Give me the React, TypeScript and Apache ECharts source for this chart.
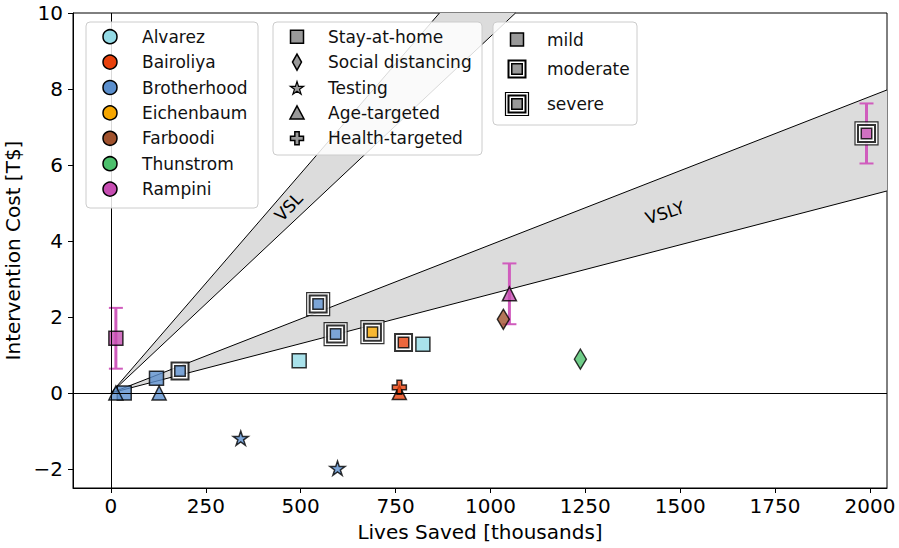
import React, { useEffect, useRef } from 'react';
import * as echarts from 'echarts';

const studies = ['Alvarez', 'Bairoliya', 'Brotherhood', 'Eichenbaum', 'Farboodi', 'Thunstrom', 'Rampini'];
const studyColors = ['#94dbe6', '#e8410c', '#5b8fcd', '#f6a600', '#a0522d', '#4cc06c', '#c64db2'];
const interventionTypes = ['Stay-at-home', 'Social distancing', 'Testing', 'Age-targeted', 'Health-targeted'];
const severities = ['mild', 'moderate', 'severe'];

// [lives saved (thousands), cost (T$), study index, severity index]
const stayAtHome = [
  [13, 1.44, 6, 0],
  [35, 0.0, 2, 0],
  [120, 0.39, 2, 0],
  [182, 0.58, 2, 1],
  [496, 0.85, 0, 0],
  [546, 2.34, 2, 2],
  [592, 1.55, 2, 2],
  [689, 1.6, 3, 2],
  [771, 1.33, 1, 1],
  [822, 1.28, 0, 0],
  [1991, 6.83, 6, 2],
];
const socialDistancing = [
  [1034, 1.94, 4, 0],
  [1237, 0.89, 5, 0],
];
const testing = [
  [342, -1.19, 2, 0],
  [597, -1.98, 2, 0],
];
const ageTargeted = [
  [13, 0.0, 2, 0],
  [127, 0.0, 2, 0],
  [760, 0.01, 1, 0],
  [1050, 2.61, 6, 0],
];
const healthTargeted = [[760, 0.15, 1, 0]];
// [lives saved, cost, error half-width]
const rampiniErrors = [
  [13, 1.44, 0.8],
  [1050, 2.61, 0.8],
  [1991, 6.83, 0.79],
];
// slopes in T$ per thousand lives
const vslSlopes = [0.00938, 0.01155];
const vslySlopes = [0.0026, 0.0039];
const bandLabels = ['VSL', 'VSLY'];
const bandLabelX = [468, 1460];
const xTicks = [0, 250, 500, 750, 1000, 1250, 1500, 1750, 2000];
const yTicks = [-2, 0, 2, 4, 6, 8, 10];
const xRange = [-100, 2045];
const yRange = [-2.5, 10];

const FONT = '"DejaVu Sans", sans-serif';
const ERR_COLOR = '#d05cbd';
const BAND_COLOR = '#dcdcdc';
const LEGEND_GRAY = '#999999';

function starPoints(cx: number, cy: number, R: number) {
  const pts: number[][] = [];
  for (let i = 0; i < 10; i++) {
    const a = -Math.PI / 2 + (i * Math.PI) / 5;
    const r = i % 2 === 0 ? R : R * 0.382;
    pts.push([cx + r * Math.cos(a), cy + r * Math.sin(a)]);
  }
  return pts;
}
const starPath =
  'path://M' + starPoints(50, 50, 50).map((p) => p[0].toFixed(2) + ' ' + p[1].toFixed(2)).join(' L') + ' Z';
const plusPath = 'path://M33 0 L67 0 L67 33 L100 33 L100 67 L67 67 L67 100 L33 100 L33 67 L0 67 L0 33 L33 33 Z';

function plusPoints(cx: number, cy: number, s: number) {
  const h = s / 2, t = s / 6;
  return [
    [cx - t, cy - h], [cx + t, cy - h], [cx + t, cy - t], [cx + h, cy - t], [cx + h, cy + t], [cx + t, cy + t],
    [cx + t, cy + h], [cx - t, cy + h], [cx - t, cy + t], [cx - h, cy + t], [cx - h, cy - t], [cx - t, cy - t],
  ];
}

function buildLegends() {
  const children: any[] = [];
  let zc = 100;
  const add = (el: any) => {
    el.z = zc++;
    el.silent = true;
    children.push(el);
  };
  const boxStyle = { fill: 'rgba(255,255,255,0.85)', stroke: '#cccccc', lineWidth: 1 };
  const txt = (x: number, y: number, t: string) => ({
    type: 'text',
    x,
    y,
    style: { text: t, fontSize: 17, fontFamily: FONT, fill: '#111', align: 'left', verticalAlign: 'middle' },
  });
  const mk = { fill: LEGEND_GRAY, stroke: '#000', lineWidth: 1.5 };

  // Legend 1: studies
  add({ type: 'rect', shape: { x: 86, y: 22, width: 172, height: 186, r: 4 }, style: boxStyle });
  studies.forEach((s, i) => {
    const y = 36.7 + 25.4 * i;
    add({ type: 'circle', shape: { cx: 110, cy: y, r: 7 }, style: { fill: studyColors[i], stroke: '#000', lineWidth: 1.5 } });
    add(txt(142, y, s));
  });

  // Legend 2: intervention types
  add({ type: 'rect', shape: { x: 273, y: 22, width: 209, height: 133, r: 4 }, style: boxStyle });
  interventionTypes.forEach((t, i) => {
    const y = 36.7 + 25.4 * i;
    const x = 297;
    if (i === 0) add({ type: 'rect', shape: { x: x - 6.5, y: y - 6.5, width: 13, height: 13 }, style: mk });
    if (i === 1) add({ type: 'polygon', shape: { points: [[x, y - 8], [x + 4.5, y], [x, y + 8], [x - 4.5, y]] }, style: mk });
    if (i === 2) add({ type: 'polygon', shape: { points: starPoints(x, y + 1, 7) }, style: { ...mk, lineWidth: 1.2 } });
    if (i === 3) add({ type: 'polygon', shape: { points: [[x, y - 7], [x + 7, y + 6], [x - 7, y + 6]] }, style: mk });
    if (i === 4) add({ type: 'polygon', shape: { points: plusPoints(x, y, 13) }, style: mk });
    add(txt(328, y, t));
  });

  // Legend 3: severity
  add({ type: 'rect', shape: { x: 493, y: 22, width: 144, height: 103, r: 4 }, style: boxStyle });
  const sy = [39.5, 69, 104];
  severities.forEach((s, i) => {
    const y = sy[i];
    const x = 517;
    if (i === 2)
      add({ type: 'rect', shape: { x: x - 11.5, y: y - 11.5, width: 23, height: 23 }, style: { fill: '#fff', stroke: '#000', lineWidth: 1.2 } });
    if (i >= 1)
      add({ type: 'rect', shape: { x: x - 8.5, y: y - 8.5, width: 17, height: 17 }, style: { fill: '#fff', stroke: '#000', lineWidth: 2 } });
    const inner = i === 0 ? 13 : 10.5;
    add({ type: 'rect', shape: { x: x - inner / 2, y: y - inner / 2, width: inner, height: inner }, style: mk });
    add(txt(547, y, s));
  });
  return children;
}

const colorOf = (p: any) => studyColors[p.value[2]];

function App() {
  const ref = useRef<HTMLDivElement>(null);
  useEffect(() => {
    if (!ref.current) return;
    const chart = echarts.init(ref.current, null, { renderer: 'svg' });

    const bandData = [vslSlopes, vslySlopes].map((s, i) => {
      const mid = (s[0] + s[1]) / 2;
      return [bandLabelX[i], mid * bandLabelX[i], s[0], s[1], i];
    });

    const scatterBase = {
      type: 'scatter',
      encode: { x: 0, y: 1 },
      emphasis: { disabled: true },
      silent: true,
    };

    const option: any = {
      animation: false,
      backgroundColor: '#fff',
      grid: {
        left: 73,
        right: 12,
        top: 13,
        bottom: 60,
        containLabel: false,
        outerBoundsMode: 'none',
        show: true,
        borderColor: '#000',
        borderWidth: 1,
      },
      xAxis: {
        type: 'value',
        min: xRange[0],
        max: xRange[1],
        name: 'Lives Saved [thousands]',
        nameLocation: 'middle',
        nameGap: 34,
        nameTextStyle: { fontSize: 20, fontFamily: FONT, color: '#000' },
        axisLine: { show: true, onZero: false, lineStyle: { color: '#000', width: 1 } },
        axisTick: { show: true, length: 5, lineStyle: { color: '#000' }, customValues: xTicks },
        axisLabel: {
          fontSize: 20,
          fontFamily: FONT,
          color: '#000',
          margin: 8,
          customValues: xTicks,
          formatter: (v: number) => String(v),
        },
        splitLine: { show: false },
      },
      yAxis: {
        type: 'value',
        min: yRange[0],
        max: yRange[1],
        name: 'Intervention Cost [T$]',
        nameLocation: 'middle',
        nameGap: 40,
        nameTextStyle: { fontSize: 20, fontFamily: FONT, color: '#000' },
        axisLine: { show: true, onZero: false, lineStyle: { color: '#000', width: 1 } },
        axisTick: { show: true, length: 5, lineStyle: { color: '#000' }, customValues: yTicks },
        axisLabel: {
          fontSize: 20,
          fontFamily: FONT,
          color: '#000',
          margin: 10,
          customValues: yTicks,
          formatter: (v: number) => (v < 0 ? '\u2212' + Math.abs(v) : String(v)),
        },
        splitLine: { show: false },
      },
      graphic: { elements: buildLegends() },
      series: [
        {
          type: 'custom',
          silent: true,
          encode: { x: 0, y: 1 },
          data: bandData,
          z: 1,
          renderItem: (params: any, api: any) => {
            const lo = api.value(2), hi = api.value(3), idx = api.value(4);
            const endPt = (s: number) => {
              const x = Math.min(xRange[1], yRange[1] / s);
              return [x, s * x];
            };
            const eLo = endPt(lo), eHi = endPt(hi);
            const pts: number[][] = [[0, 0], eLo];
            if (eLo[0] >= xRange[1] && eHi[1] >= yRange[1]) pts.push([xRange[1], yRange[1]]);
            pts.push(eHi);
            const px = pts.map((p) => api.coord(p));
            const o = api.coord([0, 0]);
            const pLo = api.coord(eLo), pHi = api.coord(eHi);
            const lp = api.coord([api.value(0), api.value(1)]);
            const angle = Math.atan2(o[1] - lp[1], lp[0] - o[0]);
            return {
              type: 'group',
              children: [
                { type: 'polygon', shape: { points: px }, style: { fill: BAND_COLOR, stroke: 'none' } },
                { type: 'line', shape: { x1: o[0], y1: o[1], x2: pLo[0], y2: pLo[1] }, style: { stroke: '#000', lineWidth: 1 } },
                { type: 'line', shape: { x1: o[0], y1: o[1], x2: pHi[0], y2: pHi[1] }, style: { stroke: '#000', lineWidth: 1 } },
                {
                  type: 'text',
                  x: lp[0],
                  y: lp[1],
                  rotation: angle,
                  style: { text: bandLabels[idx], fontSize: 17, fontFamily: FONT, fill: '#000', align: 'center', verticalAlign: 'middle' },
                },
              ],
            };
          },
        },
        {
          type: 'line',
          data: [],
          silent: true,
          markLine: {
            silent: true,
            symbol: 'none',
            label: { show: false },
            lineStyle: { color: '#000', width: 1, type: 'solid' },
            emphasis: { disabled: true },
            data: [{ yAxis: 0 }, { xAxis: 0 }],
          },
        },
        {
          type: 'custom',
          silent: true,
          encode: { x: 0, y: 1 },
          data: rampiniErrors,
          renderItem: (params: any, api: any) => {
            const x = api.value(0), y = api.value(1), e = api.value(2);
            const t = api.coord([x, y + e]);
            const b = api.coord([x, y - e]);
            const hw = 7;
            return {
              type: 'group',
              children: [
                { type: 'line', shape: { x1: t[0], y1: t[1], x2: b[0], y2: b[1] }, style: { stroke: ERR_COLOR, lineWidth: 3 } },
                { type: 'line', shape: { x1: t[0] - hw, y1: t[1], x2: t[0] + hw, y2: t[1] }, style: { stroke: ERR_COLOR, lineWidth: 2 } },
                { type: 'line', shape: { x1: b[0] - hw, y1: b[1], x2: b[0] + hw, y2: b[1] }, style: { stroke: ERR_COLOR, lineWidth: 2 } },
              ],
            };
          },
        },
        {
          ...scatterBase,
          name: 'severe ring',
          data: stayAtHome.filter((d) => d[3] === 2),
          symbol: 'rect',
          symbolSize: 23,
          itemStyle: { color: '#fff', borderColor: '#000', borderWidth: 1.2 },
        },
        {
          ...scatterBase,
          name: 'moderate ring',
          data: stayAtHome.filter((d) => d[3] >= 1),
          symbol: 'rect',
          symbolSize: 17,
          itemStyle: { color: '#fff', borderColor: '#000', borderWidth: 2 },
        },
        {
          ...scatterBase,
          name: 'Stay-at-home',
          data: stayAtHome,
          symbol: 'rect',
          symbolSize: (v: number[]) => (v[3] === 0 ? 14 : 10.5),
          itemStyle: { color: colorOf, borderColor: '#000', borderWidth: 1.5 },
        },
        {
          ...scatterBase,
          name: 'Social distancing',
          data: socialDistancing,
          symbol: 'diamond',
          symbolSize: [12, 20],
          itemStyle: { color: colorOf, borderColor: '#000', borderWidth: 1.5 },
        },
        {
          ...scatterBase,
          name: 'Testing',
          data: testing,
          symbol: starPath,
          symbolKeepAspect: true,
          symbolSize: 15,
          itemStyle: { color: colorOf, borderColor: '#000', borderWidth: 1.5 },
        },
        {
          ...scatterBase,
          name: 'Age-targeted',
          data: ageTargeted,
          symbol: 'triangle',
          symbolSize: 14,
          itemStyle: { color: colorOf, borderColor: '#000', borderWidth: 1.5 },
        },
        {
          ...scatterBase,
          name: 'Health-targeted',
          data: healthTargeted,
          symbol: plusPath,
          symbolSize: 14,
          itemStyle: { color: colorOf, borderColor: '#000', borderWidth: 1.5 },
        },
      ],
    };
    chart.setOption(option);
    return () => chart.dispose();
  }, []);
  return <div ref={ref} style={{ width: 899, height: 548, position: 'absolute', left: 0, top: 0 }} />;
}

export default App;
